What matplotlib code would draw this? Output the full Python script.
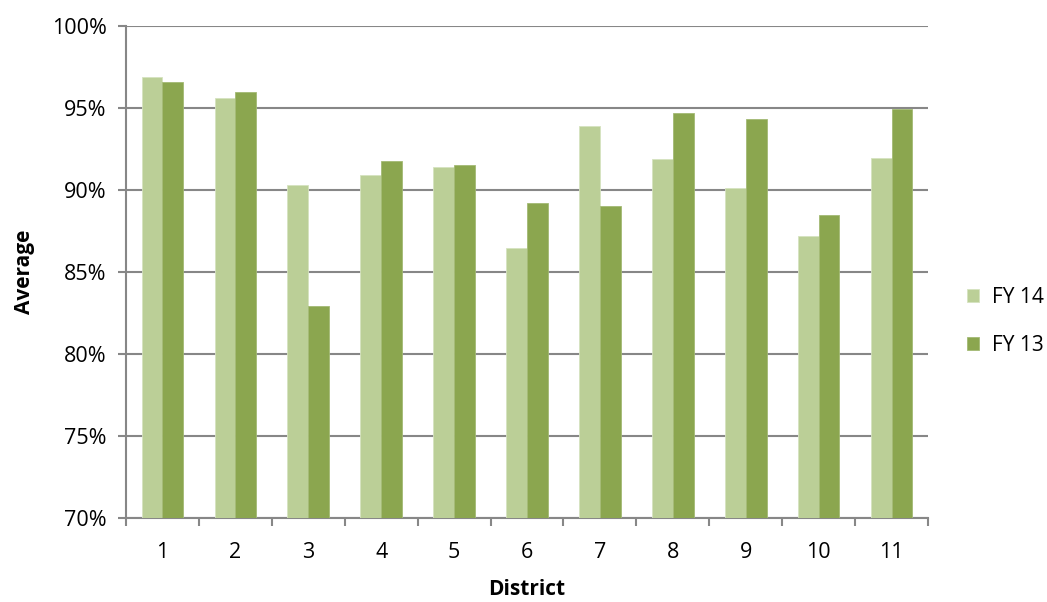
import matplotlib
matplotlib.use("Agg")
import matplotlib.pyplot as plt
import numpy as np
from matplotlib.ticker import FuncFormatter, MultipleLocator, FixedLocator

districts = ["1", "2", "3", "4", "5", "6", "7", "8", "9", "10", "11"]
fy14 = [96.9, 95.6, 90.3, 90.9, 91.4, 86.45, 93.9, 91.9, 90.15, 87.2, 91.95]
fy13 = [96.6, 95.95, 82.9, 91.75, 91.5, 89.2, 89.05, 94.7, 94.3, 88.45, 94.95]
series_names = ["FY 14", "FY 13"]
colors = ["#BBCF97", "#8BA64F"]

plt.rcParams['font.family'] = ['Open Sans', 'DejaVu Sans']

fig = plt.figure(figsize=(10.47, 6.02), dpi=100)
ax = fig.add_axes([126/1047, 1 - 518/602, (928-126)/1047, (518-26)/602])

x = np.arange(len(districts))
w = 1 / 3.5
b1 = ax.bar(x - w/2, fy14, width=w, color=colors[0], edgecolor="#D6E3C0", linewidth=0.6, label=series_names[0], zorder=3)
b2 = ax.bar(x + w/2, fy13, width=w, color=colors[1], edgecolor="#A3BA74", linewidth=0.6, label=series_names[1], zorder=3)

ax.set_ylim(70, 100)
ax.set_xlim(-0.5, len(districts) - 0.5)
ax.yaxis.set_major_locator(MultipleLocator(5))
ax.yaxis.set_major_formatter(FuncFormatter(lambda v, p: f"{v:.0f}%"))
ax.grid(axis='y', color='#878787', linewidth=1.5, zorder=0)
ax.set_axisbelow(True)

ax.set_xticks(x)
ax.set_xticklabels(districts)
ax.xaxis.set_minor_locator(FixedLocator(np.arange(-0.5, len(districts), 1)))
ax.tick_params(axis='x', which='major', length=0, labelsize=15.5, pad=17, colors='black')
ax.tick_params(axis='x', which='minor', length=6, width=1.5, color='#878787')
ax.tick_params(axis='y', which='major', length=6, width=1.5, color='#878787', labelsize=15.5, pad=8, labelcolor='black')

for s in ['top', 'right']:
    ax.spines[s].set_visible(False)
for s in ['left', 'bottom']:
    ax.spines[s].set_color('#878787')
    ax.spines[s].set_linewidth(1.5)

ax.set_xlabel("District", fontsize=15, fontweight='bold', labelpad=12)
ax.set_ylabel("Average", fontsize=15, fontweight='bold', labelpad=12)

leg = fig.legend(handles=[b1, b2], labels=series_names, loc='upper left',
                 bbox_to_anchor=(948/1047, 1 - 268/602), frameon=False,
                 fontsize=15, handlelength=0.6, handleheight=0.6,
                 labelspacing=1.3, handletextpad=0.6)

fig.savefig("out.png", dpi=100)
